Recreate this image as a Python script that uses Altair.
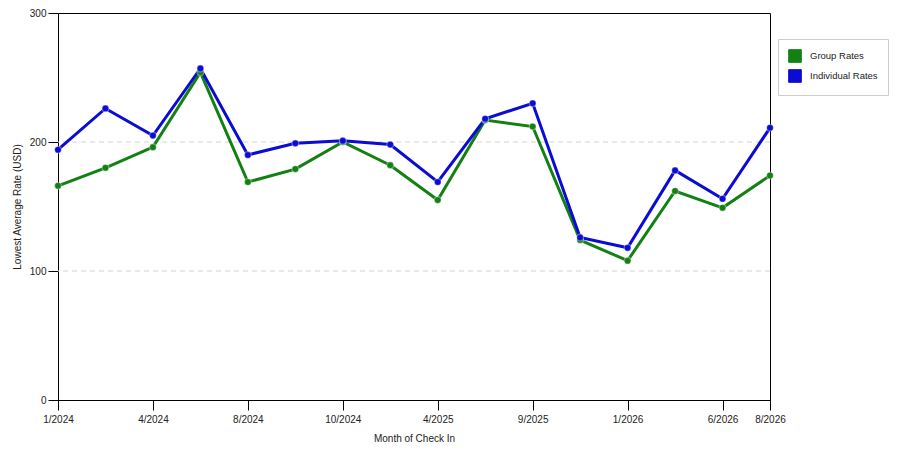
"""Line chart of lowest average rates by month of check-in."""

import pandas as pd
import altair as alt

months = ["1/2024", "3/2024", "4/2024", "6/2024", "8/2024", "9/2024", "10/2024", "12/2024",
          "4/2025", "6/2025", "9/2025", "11/2025", "1/2026", "3/2026", "6/2026", "8/2026"]
tick_months = ["1/2024", "4/2024", "8/2024", "10/2024", "4/2025", "9/2025", "1/2026", "6/2026", "8/2026"]
group_rates = [166, 180, 196, 254, 169, 179, 200, 182, 155, 217, 212, 124, 108, 162, 149, 174]
individual_rates = [194, 226, 205, 257, 190, 199, 201, 198, 169, 218, 230, 126, 118, 178, 156, 211]
grid_values = [100, 200]
series = ["Group Rates", "Individual Rates"]
series_colors = ["#138013", "#0b0bd4"]

df = pd.concat([
    pd.DataFrame({"Month": months, "Rate": group_rates, "Series": series[0]}),
    pd.DataFrame({"Month": months, "Rate": individual_rates, "Series": series[1]}),
])

x = alt.X("Month:N", sort=months,
          scale=alt.Scale(type="point", padding=0, domain=months),
          axis=alt.Axis(values=tick_months, labelAngle=0, tickSize=10, labelPadding=4,
                        labelFlush=False, labelOverlap=False, grid=False,
                        title="Month of Check In", titlePadding=9))
y = alt.Y("Rate:Q", scale=alt.Scale(domain=[0, 300], nice=False),
          axis=alt.Axis(values=[0, 100, 200, 300], tickSize=10, labelPadding=2, grid=False,
                        title="Lowest Average Rate (USD)", titlePadding=7))

color = alt.Color("Series:N", scale=alt.Scale(domain=series, range=series_colors),
                  legend=alt.Legend(title=None, orient="none", legendX=720, legendY=26,
                                    symbolType="square", symbolSize=160,
                                    symbolStrokeColor="#1a1a1a", symbolStrokeWidth=1,
                                    padding=10, rowPadding=2, labelOffset=8,
                                    strokeColor="#cccccc", fillColor="white"))

# dashed guide lines at 100 and 200
grid = alt.Chart(pd.DataFrame({"Rate": grid_values})).mark_rule(
    strokeDash=[5, 4], color="#d4d4d4", strokeWidth=1
).encode(y=alt.Y("Rate:Q"))

base = alt.Chart(df).encode(x=x, y=y, color=color)

lines = base.mark_line(strokeWidth=3)
points = base.mark_point(filled=True, size=45, opacity=1, stroke="white",
                         strokeOpacity=0.35, strokeWidth=1.2)

chart = (grid + lines + points).properties(
    width=712,
    height=387,
    autosize=alt.AutoSizeParams(type="none"),
    padding={"left": 50, "top": 5, "right": 120, "bottom": 42},
).configure_view(
    stroke="black", strokeWidth=1
).configure_axis(
    labelFont="Liberation Sans", labelFontSize=10, labelColor="#222",
    titleFont="Liberation Sans", titleFontSize=10, titleFontWeight="normal", titleColor="#222",
    domainColor="black", tickColor="black",
).configure_legend(
    labelFont="Liberation Sans", labelFontSize=9.5, labelColor="#222"
)

chart.save("out.html", embed_options={"renderer": "svg", "actions": False})
